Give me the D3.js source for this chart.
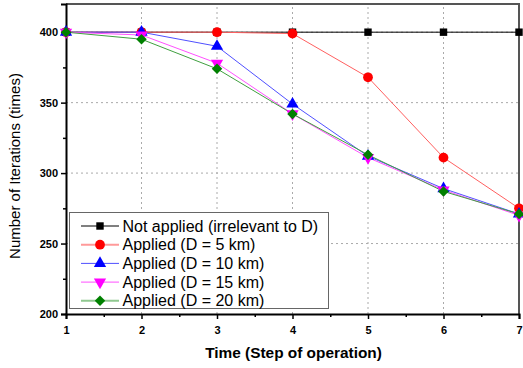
<!DOCTYPE html>
<html><head><meta charset="utf-8">
<script src="https://cdn.jsdelivr.net/npm/d3@7"></script>
<style>body{margin:0;background:#fff}svg{display:block}</style>
</head><body>
<script>
const steps = [1,2,3,4,5,6,7];
const notApplied = [400,400,400,400,400,400,400];
const d5  = [400,400,400,399,368,311,275];
const d10 = [400,400,390,349,312,289,271];
const d15 = [400,398,378,342,311,288,270];
const d20 = [400,395,374,342,313,287,271];
const seriesNames = ["Not applied (irrelevant to D)","Applied (D = 5 km)","Applied (D = 10 km)","Applied (D = 15 km)","Applied (D = 20 km)"];
const yTicks = [200,250,300,350,400];

const W=523,H=368;
const m={l:66,r:4,t:4,b:54};
const svg=d3.select("body").append("svg").attr("width",W).attr("height",H);
const x=d3.scaleLinear().domain([1,7]).range([m.l,W-m.r]);
const y=d3.scaleLinear().domain([200,420]).range([H-m.b,m.t]);
const FONT="Liberation Sans, Arial, sans-serif";

// grid
const g=svg.append("g");
g.selectAll(".gx").data([2,3,4,5,6]).join("line")
 .attr("x1",d=>x(d)).attr("x2",d=>x(d)).attr("y1",y(200)).attr("y2",y(420))
 .attr("stroke","#aaa").attr("stroke-width",1).attr("stroke-dasharray","2,3");
g.selectAll(".gy").data([250,300,350,400]).join("line")
 .attr("x1",x(1)).attr("x2",x(7)).attr("y1",d=>y(d)).attr("y2",d=>y(d))
 .attr("stroke","#aaa").attr("stroke-width",1).attr("stroke-dasharray","2,3");

// frame top/right
svg.append("line").attr("x1",x(1)).attr("x2",x(7)+1).attr("y1",y(420)).attr("y2",y(420)).attr("stroke","#555").attr("stroke-width",2);
svg.append("line").attr("x1",x(7)).attr("x2",x(7)).attr("y1",y(420)).attr("y2",y(200)).attr("stroke","#555").attr("stroke-width",2);

// axes
const xAx=svg.append("g").attr("transform",`translate(0,${y(200)})`)
 .call(d3.axisBottom(x).tickValues(steps).tickSize(5).tickFormat(d3.format("d")));
svg.append("g").attr("transform",`translate(0,${y(200)})`)
 .call(d3.axisBottom(x).tickValues([1.5,2.5,3.5,4.5,5.5,6.5]).tickSize(3).tickFormat(""))
 .call(s=>s.select(".domain").remove());
const yAx=svg.append("g").attr("transform",`translate(${x(1)},0)`)
 .call(d3.axisLeft(y).tickValues(yTicks).tickSize(5));
svg.append("g").attr("transform",`translate(${x(1)},0)`)
 .call(d3.axisLeft(y).tickValues([225,275,325,375]).tickSize(3).tickFormat(""))
 .call(s=>s.select(".domain").remove());
svg.selectAll(".domain").attr("stroke","#000").attr("stroke-width",2);
svg.selectAll(".tick line").attr("stroke","#000").attr("stroke-width",1.5);
svg.selectAll(".tick text").attr("font-family",FONT).attr("font-weight","bold").attr("font-size",11).attr("fill","#000");
xAx.selectAll(".tick text").attr("dy","1.1em");

// series
const series=[
 {v:notApplied,c:"#000",lc:"#000",llc:"#000",lw:1,sym:d3.symbolSquare,size:55,rot:0},
 {v:d5,c:"#ff0000",lc:"#ff6060",llc:"#ff9a9a",lw:2,sym:d3.symbolCircle,size:75,rot:0},
 {v:d10,c:"#0000ff",lc:"#5050ff",llc:"#5050ff",lw:1,sym:d3.symbolTriangle,size:65,rot:0},
 {v:d15,c:"#ff00ff",lc:"#ff50ff",llc:"#ff50ff",lw:1,sym:d3.symbolTriangle,size:65,rot:180},
 {v:d20,c:"#008000",lc:"#40a040",llc:"#90c890",lw:2,sym:d3.symbolSquare,size:55,rot:45}
];
const line=d3.line().x((d,i)=>x(steps[i])).y(d=>y(d));
series.forEach(s=>{
 svg.append("path").datum(s.v).attr("d",line).attr("fill","none").attr("stroke",s.lc).attr("stroke-width",1);
});
series.forEach(s=>{
 svg.append("g").selectAll("path").data(s.v).join("path")
  .attr("d",d3.symbol().type(s.sym).size(s.size))
  .attr("transform",(d,i)=>`translate(${x(steps[i])},${y(d)}) rotate(${s.rot})`)
  .attr("fill",s.c);
});

// legend
const lg=svg.append("g");
lg.append("rect").attr("x",69.5).attr("y",212.5).attr("width",259).attr("height",96)
 .attr("fill","#fff").attr("stroke","#666").attr("stroke-width",1);
series.forEach((s,i)=>{
 const yy=226+i*18.7;
 lg.append("line").attr("x1",81).attr("x2",119).attr("y1",yy).attr("y2",yy).attr("stroke",s.llc).attr("stroke-width",s.lw);
 lg.append("path").attr("d",d3.symbol().type(s.sym).size(s.size))
  .attr("transform",`translate(100,${yy}) rotate(${s.rot})`).attr("fill",s.c);
 lg.append("text").attr("x",122.5).attr("y",yy+5.5).text(seriesNames[i])
  .attr("font-family",FONT).attr("font-size",16).attr("fill","#000");
});

// labels
svg.append("text").attr("x",293.5).attr("y",358).attr("text-anchor","middle")
 .attr("font-family",FONT).attr("font-weight","bold").attr("font-size",15.4).text("Time (Step of operation)");
svg.append("text").attr("transform",`translate(20,166) rotate(-90)`).attr("text-anchor","middle")
 .attr("font-family",FONT).attr("font-size",15).text("Number of Iterations (times)");
</script>
</body></html>
